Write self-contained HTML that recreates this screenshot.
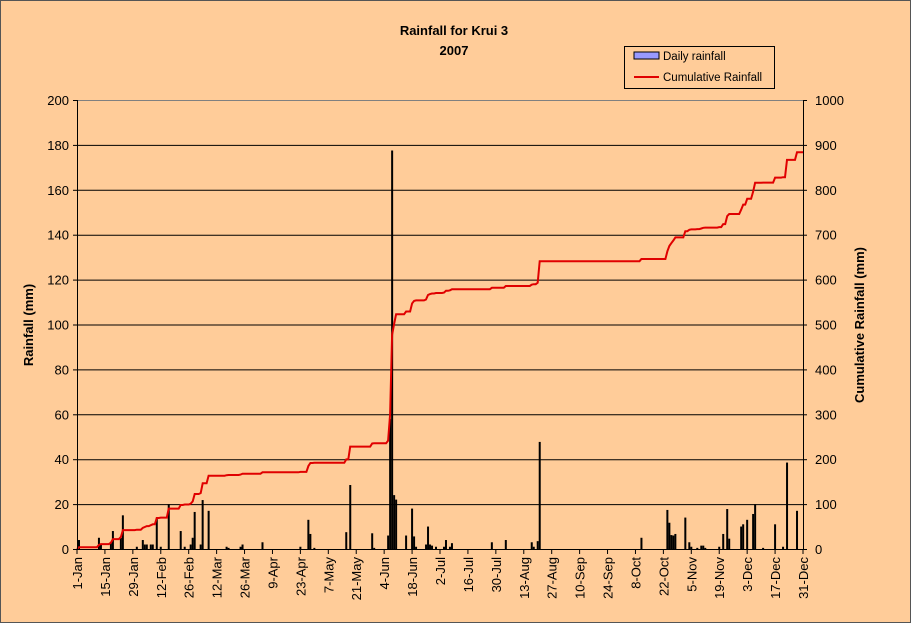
<!DOCTYPE html>
<html><head><meta charset="utf-8"><style>
body{margin:0;background:#FFCC99;}
svg{display:block;font-family:"Liberation Sans",Arial,sans-serif;}
</style></head><body>
<svg id="chart" width="911" height="623">
<rect x="0" y="0" width="911" height="623" fill="#FFCC99"/>
<rect x="0.5" y="0.5" width="910" height="622" fill="none" stroke="#555" stroke-width="1"/>
<text x="454" y="35" text-anchor="middle" font-size="13" font-weight="bold">Rainfall for Krui 3</text>
<text x="454" y="55" text-anchor="middle" font-size="13" font-weight="bold">2007</text>
<g id="grid"></g>
<g id="bars"></g>
<g id="line"></g>
<g id="axes"></g>
<text transform="translate(33,325) rotate(-90)" text-anchor="middle" font-size="13" font-weight="bold">Rainfall (mm)</text>
<text transform="translate(864,325) rotate(-90)" text-anchor="middle" font-size="13" font-weight="bold">Cumulative Rainfall (mm)</text>
<g>
<rect x="624.5" y="46.5" width="150" height="42" fill="#FFCC99" stroke="#000"/>
<rect x="634" y="52" width="25" height="7" fill="#9999FF" stroke="#000"/>
<text x="663" y="60" font-size="11.5">Daily rainfall</text>
<line x1="634" y1="77" x2="659" y2="77" stroke="#e00000" stroke-width="2"/>
<text x="663" y="81" font-size="11.5">Cumulative Rainfall</text>
</g>
</svg>
<script>
const rainDays=[1,11,12,17,18,22,23,30,33,34,35,37,38,40,42,46,52,54,57,58,59,62,63,66,75,76,82,83,93,112,116,117,119,135,137,148,149,156,157,158,159,160,165,168,169,170,175,176,177,178,180,184,185,187,188,208,215,228,229,231,232,283,296,297,298,299,300,305,307,308,311,313,314,315,322,324,326,327,333,334,336,339,340,344,350,354,356,361];
const rainValues=[4,5,2,3,8,5,15,1,4,2,2,2,2,14,1,20,8,1,2,5,16.5,2,21.8,17,1,0.5,1,2,3,1,13,6.7,0.5,7.5,28.5,7,0.5,6,58,177.5,24,22,6,18,5.6,1,2,10,2,1.5,1,1,4,1,2.6,3,4,3,1,3.5,47.7,5,17.4,11.7,6.2,6,6.7,14,3,1,0.5,1.5,1.5,0.5,1,6.7,17.8,4.6,10,11,13,15.6,20,0.5,11,1,38.5,17];
const leftTicks=[0,20,40,60,80,100,120,140,160,180,200];
const rightTicks=[0,100,200,300,400,500,600,700,800,900,1000];
const dateLabels=["1-Jan","15-Jan","29-Jan","12-Feb","26-Feb","12-Mar","26-Mar","9-Apr","23-Apr","7-May","21-May","4-Jun","18-Jun","2-Jul","16-Jul","30-Jul","13-Aug","27-Aug","10-Sep","24-Sep","8-Oct","22-Oct","5-Nov","19-Nov","3-Dec","17-Dec","31-Dec"];
const dateLabelDays=[0,14,28,42,56,70,84,98,112,126,140,154,168,182,196,210,224,238,252,266,280,294,308,322,336,350,364];

const NS="http://www.w3.org/2000/svg";
const X0=77,X1=803,Y0=549,Y1=100;
const xs=d=>X0+d*(X1-X0)/364;
const yL=v=>Y0-v*(Y0-Y1)/200;
const yR=v=>Y0-v*(Y0-Y1)/1000;
function mk(tag,attrs,parent){const e=document.createElementNS(NS,tag);for(const k in attrs)e.setAttribute(k,attrs[k]);parent.appendChild(e);return e;}
const grid=document.getElementById('grid'),bars=document.getElementById('bars'),line=document.getElementById('line'),axes=document.getElementById('axes');

leftTicks.forEach((v,i)=>{
  if(v>0){const g=mk('line',{x1:X0,x2:X1,y1:yL(v)+0.5,y2:yL(v)+0.5,stroke:'#000','stroke-width':1},grid);
  
  }
  const t=mk('text',{x:X0-8,y:yL(v)+5,'text-anchor':'end','font-size':13},axes);t.textContent=v;
  
  
  const tk=mk('line',{x1:X0-4,x2:X0,y1:yL(v)+0.5,y2:yL(v)+0.5,stroke:'#000'},axes);
  
  
});
rightTicks.forEach(v=>{
  const t=mk('text',{x:X1+12,y:yR(v)+5,'text-anchor':'start','font-size':13},axes);t.textContent=v;
  
  
  const tk=mk('line',{x1:X1,x2:X1+4,y1:yR(v)+0.5,y2:yR(v)+0.5,stroke:'#000'},axes);
  
  
});
const pb=mk('rect',{x:X0+0.5,y:Y1+0.5,width:X1-X0,height:Y0-Y1,fill:'none',stroke:'#808080'},grid);


const ax=mk('line',{x1:X0+0.5,x2:X0+0.5,y1:Y1,y2:Y0,stroke:'#000'},axes);


const ax2=mk('line',{x1:X1+0.5,x2:X1+0.5,y1:Y1,y2:Y0,stroke:'#000'},axes);


const xa=mk('line',{x1:X0,x2:X1,y1:Y0+0.5,y2:Y0+0.5,stroke:'#000'},axes);


dateLabels.forEach((lab,i)=>{
  const x=xs(dateLabelDays[i]);
  const tk=mk('line',{x1:x,x2:x,y1:Y0,y2:Y0+5,stroke:'#000'},axes);
  
  
  const t=mk('text',{transform:`translate(${x+5},${Y0+8}) rotate(-90)`,'text-anchor':'end','font-size':13},axes);t.textContent=lab;
  
  
});
rainDays.forEach((d,i)=>{
  const v=rainValues[i];const x=xs(d);
  const b=mk('rect',{x:x-1,y:yL(v),width:2,height:Y0-yL(v),fill:'#000'},bars);
  
  
});
const daily=new Array(365).fill(0);
rainDays.forEach((d,i)=>{daily[d]+=rainValues[i];});
let cum=0;const pts=[];
for(let d=0;d<365;d++){cum+=daily[d];pts.push(xs(d).toFixed(1)+','+yR(cum).toFixed(1));}
const pl=mk('polyline',{points:pts.join(' '),fill:'none',stroke:'#e00000','stroke-width':2},line);


</script>
</body></html>
